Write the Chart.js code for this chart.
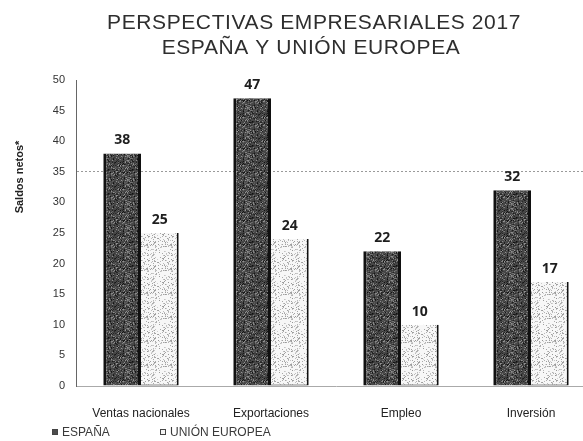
<!DOCTYPE html>
<html>
<head>
<meta charset="utf-8">
<script src="https://cdn.jsdelivr.net/npm/chart.js@4/dist/chart.umd.min.js"></script>
<style>
  html, body { margin: 0; padding: 0; background: #fff; overflow: hidden; }
  /* the plot runs a little past the right edge of the page */
  #wrap { width: 596px; height: 441px; position: relative; }
</style>
</head>
<body>
<div id="wrap"><canvas id="c"></canvas></div>
<script>
const categorias = ["Ventas nacionales", "Exportaciones", "Empleo", "Inversión"];
const espana = [38, 47, 22, 32];
const unionEuropea = [25, 24, 10, 17];
const ticksY = [0, 5, 10, 15, 20, 25, 30, 35, 40, 45, 50];
const titulo = ["PERSPECTIVAS EMPRESARIALES 2017", "ESPAÑA Y UNIÓN EUROPEA"];
const ejeY = "Saldos netos*";

// grainy fills for the two series
function hash(x, y) {
  let h = (x * 374761393 + y * 668265263) | 0;
  h = (h ^ (h >>> 13)) * 1274126177;
  return ((h ^ (h >>> 16)) >>> 0) / 4294967295;
}
function trama(base, lo, hi, densidad, size) {
  const c = document.createElement("canvas");
  c.width = c.height = size;
  const g = c.getContext("2d");
  g.fillStyle = base;
  g.fillRect(0, 0, size, size);
  for (let y = 0; y < size; y++) {
    for (let x = 0; x < size; x++) {
      if (hash(x, y) < densidad) {
        const k = Math.round(lo + (hi - lo) * hash(y + 7, x + 3));
        g.fillStyle = `rgb(${k},${k},${k})`;
        g.fillRect(x, y, 1, 1);
      }
    }
  }
  return g.createPattern(c, "repeat");
}
const rellenoEs = trama("#474747", 15, 150, 0.55, 24);
const rellenoUe = trama("#f7f7f7", 150, 215, 0.22, 24);

const extras = {
  id: "extras",
  afterDatasetsDraw(chart) {
    const { ctx } = chart;
    ctx.save();
    // value labels
    ctx.fillStyle = "#1e1e1e";
    ctx.font = "bold 14px 'Open Sans', sans-serif";
    ctx.textAlign = "center";
    ctx.textBaseline = "bottom";
    chart.data.datasets.forEach((ds, i) => {
      chart.getDatasetMeta(i).data.forEach((bar, j) => {
        ctx.fillText(String(ds.data[j]), bar.x, bar.y - 6);
      });
    });
    ctx.restore();
  },
  afterDraw(chart) {
    const { ctx } = chart;
    ctx.save();
    // title, two lines
    ctx.fillStyle = "#2e2e2e";
    ctx.font = "21px 'Liberation Sans', Arial, sans-serif";
    ctx.letterSpacing = "0.6px";
    ctx.textAlign = "center";
    ctx.textBaseline = "middle";
    ctx.fillText(titulo[0], 314, 23);
    ctx.fillText(titulo[1], 311, 48);
    ctx.letterSpacing = "0px";
    // y axis title
    ctx.translate(20, 177);
    ctx.rotate(-Math.PI / 2);
    ctx.font = "bold 11px 'Liberation Sans', Arial, sans-serif";
    ctx.fillStyle = "#222";
    ctx.fillText(ejeY, 0, 0);
    ctx.setTransform(1, 0, 0, 1, 0, 0);
    // legend
    ctx.font = "12px 'Liberation Sans', Arial, sans-serif";
    ctx.textAlign = "left";
    const items = [
      { x: 52, fill: "#4c4c4c", text: chart.data.datasets[0].label },
      { x: 160, fill: "#f4f4f4", text: chart.data.datasets[1].label }
    ];
    items.forEach(it => {
      ctx.fillStyle = it.fill;
      ctx.fillRect(it.x, 429, 6, 6);
      ctx.strokeStyle = "#444";
      ctx.lineWidth = 1;
      ctx.strokeRect(it.x + 0.5, 429.5, 5, 5);
      ctx.fillStyle = "#3a3a3a";
      ctx.fillText(it.text, it.x + 10, 433);
    });
    ctx.restore();
  }
};

new Chart(document.getElementById("c"), {
  type: "bar",
  data: {
    labels: categorias,
    datasets: [
      {
        label: "ESPAÑA",
        data: espana,
        backgroundColor: rellenoEs,
        borderColor: "#111",
        borderWidth: { left: 3, right: 3, top: 0, bottom: 0 },
        borderSkipped: false
      },
      {
        label: "UNIÓN EUROPEA",
        data: unionEuropea,
        backgroundColor: rellenoUe,
        borderColor: "#111",
        borderWidth: { left: 0, right: 2, top: 0, bottom: 1 },
        borderSkipped: false
      }
    ]
  },
  options: {
    responsive: true,
    maintainAspectRatio: false,
    animation: false,
    layout: { padding: { top: 80, right: 0, bottom: 0, left: 0 } },
    categoryPercentage: 0.58,
    barPercentage: 1,
    plugins: {
      legend: { display: false },
      tooltip: { enabled: false },
      title: { display: false }
    },
    scales: {
      x: {
        grid: { display: false },
        border: { display: true, color: "#aaa", dash: [2, 3] },
        ticks: {
          color: "#222",
          padding: 12,
          font: { family: "'Liberation Sans', Arial, sans-serif", size: 12 }
        },
        afterFit: s => { s.height = 55; }
      },
      y: {
        min: 0,
        max: 50,
        afterBuildTicks: s => { s.ticks = ticksY.map(v => ({ value: v })); },
        grid: {
          drawTicks: false,
          color: ctx => ctx.tick && ctx.tick.value === 35 ? "#9a9a9a" : "transparent",
          tickBorderDash: [2, 5]
        },
        border: { display: true, color: "#666", dash: [2, 2] },
        ticks: {
          color: "#333",
          padding: 11,
          font: { family: "'Liberation Sans', Arial, sans-serif", size: 11 }
        },
        afterFit: s => { s.width = 76; }
      }
    }
  },
  plugins: [extras]
});
</script>
</body>
</html>
